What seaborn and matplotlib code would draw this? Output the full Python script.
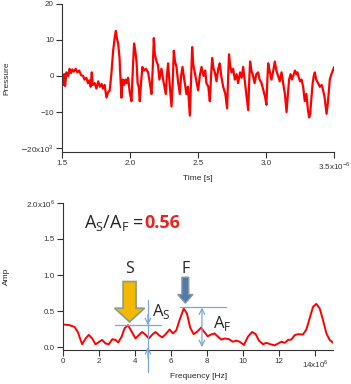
import seaborn as sns
import matplotlib.pyplot as plt
import pandas as pd
from matplotlib.patches import FancyArrow

# pressure trace (time in 1e-6 s, pressure in 1e-3)
time_us = [1.500, 1.507, 1.515, 1.522, 1.532, 1.545, 1.555, 1.565, 1.575, 1.585,
           1.600, 1.612, 1.625, 1.640, 1.654, 1.665, 1.678, 1.690, 1.700, 1.710,
           1.718, 1.725, 1.740, 1.752, 1.765, 1.778, 1.790, 1.801, 1.812, 1.826,
           1.838, 1.850, 1.862, 1.875, 1.888, 1.895, 1.902, 1.912, 1.922, 1.930,
           1.936, 1.945, 1.955, 1.965, 1.973, 1.985, 1.997, 2.010, 2.020, 2.029,
           2.038, 2.047, 2.055, 2.063, 2.071, 2.080, 2.090, 2.100, 2.115, 2.132,
           2.145, 2.157, 2.166, 2.174, 2.182, 2.194, 2.205, 2.215, 2.230, 2.245,
           2.262, 2.270, 2.279, 2.290, 2.304, 2.313, 2.321, 2.330, 2.341, 2.352,
           2.365, 2.375, 2.385, 2.398, 2.414, 2.425, 2.439, 2.448, 2.456, 2.465,
           2.475, 2.488, 2.500, 2.512, 2.525, 2.540, 2.552, 2.561, 2.575, 2.586,
           2.595, 2.603, 2.613, 2.623, 2.635, 2.648, 2.659, 2.670, 2.684, 2.700,
           2.713, 2.720, 2.727, 2.735, 2.745, 2.757, 2.770, 2.783, 2.794, 2.808,
           2.820, 2.831, 2.842, 2.855, 2.868, 2.876, 2.882, 2.892, 2.904, 2.915,
           2.928, 2.941, 2.952, 2.966, 2.980, 2.993, 3.002, 3.009, 3.015, 3.025,
           3.039, 3.050, 3.064, 3.075, 3.088, 3.100, 3.113, 3.125, 3.138, 3.150,
           3.160, 3.169, 3.180, 3.190, 3.199, 3.212, 3.222, 3.230, 3.240, 3.250,
           3.260, 3.272, 3.284, 3.296, 3.306, 3.316, 3.324, 3.333, 3.342, 3.350,
           3.358, 3.368, 3.382, 3.395, 3.408, 3.419, 3.430, 3.444, 3.455, 3.468,
           3.480, 3.490, 3.500]
pressure = [-1.0, -2.5, 0.5, -2.8, 1.0, 0.0, 2.0, 0.8, 1.8, 1.2,
            2.0, 1.0, 1.5, 0.2, 0.0, -1.0, -0.5, -2.0, -1.2, -3.0,
            1.0, -2.5, -2.0, -3.5, -1.5, -3.0, -2.2, -3.5, -2.5, -6.0,
            -4.5, -4.0, 0.5, 7.0, 11.0, 12.5, 10.5, 9.0, 5.0, -1.0,
            -6.0, -1.0, -2.5, -1.0, -2.0, -0.5, -4.5, -7.0, 2.0, 9.0,
            7.0, 4.0, -2.0, -3.0, -7.0, -2.0, 2.5, 1.5, 2.0, 1.0,
            -2.0, -5.0, 2.0, 10.5, 6.0, 4.0, 3.0, -1.0, 2.0, -1.5,
            -5.0, 0.0, 3.5, -2.0, -8.5, -2.0, 7.0, 4.0, 2.5, -1.5,
            -5.0, 0.0, 2.5, -1.0, -5.0, -3.0, -11.0, -1.0, 8.0, 3.0,
            1.0, -1.5, -4.0, 0.0, 2.5, 0.0, 1.5, -2.0, -3.0, -7.0,
            0.0, 5.0, 2.0, 1.0, -1.5, 2.0, 3.5, 0.0, -3.0, -5.0,
            -9.0, -1.0, 6.0, 3.0, 1.0, 2.0, -1.0, 0.5, -2.0, 1.0,
            -0.5, 2.5, -1.0, -5.0, -9.5, -1.0, 4.0, 1.5, 0.0, -2.0,
            0.5, 1.0, -1.0, -2.0, -4.0, -6.0, -8.0, -1.0, 3.5, 1.5,
            -1.0, 1.0, 4.0, 1.5, 0.0, -1.5, 1.0, -2.0, -5.0, -10.0,
            -5.0, -1.0, 0.5, -1.0, 0.0, 1.5, 0.5, 1.0, -0.5, -1.5,
            -1.0, -3.0, -7.0, -5.0, -9.0, -11.5, -10.5, -6.0, -2.0, 0.0,
            1.0, -1.0, -2.0, -3.0, -2.5, -4.0, -6.0, -10.5, -7.0, -1.0,
            0.5, 1.5, 2.5]

# spectrum (frequency in 1e6 Hz, amplitude in 1e6)
freq_mhz = [0.0, 0.37, 0.65, 0.83, 1.07, 1.26, 1.44, 1.63, 1.81, 2.0,
            2.18, 2.37, 2.55, 2.74, 2.92, 3.07, 3.26, 3.42, 3.61, 3.85,
            4.03, 4.22, 4.40, 4.59, 4.77, 4.96, 5.14, 5.33, 5.51, 5.70,
            5.92, 6.10, 6.29, 6.47, 6.70, 6.88, 7.06, 7.25, 7.43, 7.66,
            7.84, 8.03, 8.21, 8.41, 8.60, 8.78, 8.97, 9.21, 9.43, 9.62,
            9.80, 10.04, 10.26, 10.49, 10.69, 10.87, 11.10, 11.28, 11.50, 11.74,
            11.93, 12.11, 12.30, 12.48, 12.67, 12.85, 13.04, 13.31, 13.50, 13.68,
            13.87, 14.05, 14.24, 14.42, 14.61, 14.79, 14.98]
amp = [0.315, 0.305, 0.28, 0.21, 0.04, 0.12, 0.17, 0.12, 0.04, 0.07,
       0.10, 0.05, 0.04, 0.11, 0.10, 0.065, 0.145, 0.26, 0.305, 0.20,
       0.12, 0.17, 0.21, 0.17, 0.12, 0.175, 0.21, 0.165, 0.135, 0.18,
       0.245, 0.19, 0.235, 0.375, 0.535, 0.465, 0.27, 0.18, 0.21, 0.27,
       0.21, 0.15, 0.175, 0.19, 0.145, 0.105, 0.12, 0.11, 0.075, 0.09,
       0.075, 0.03, 0.145, 0.21, 0.18, 0.09, 0.04, 0.06, 0.04, 0.025,
       0.05, 0.075, 0.06, 0.10, 0.105, 0.165, 0.18, 0.175, 0.245, 0.40,
       0.56, 0.60, 0.535, 0.375, 0.19, 0.10, 0.06]

# annotation values
f_slow, a_slow = 3.7, 0.305
f_fast, a_fast = 6.79, 0.55
ratio_text = "0.56"

sns.set_style("ticks")
plt.rcParams['font.family'] = ['Liberation Sans', 'DejaVu Sans']
plt.rcParams['axes.edgecolor'] = '#333333'
plt.rcParams['xtick.color'] = '#333333'
plt.rcParams['ytick.color'] = '#333333'

fig = plt.figure(figsize=(3.51, 3.84), dpi=100)
ax1 = fig.add_axes([0.177, 0.605, 0.775, 0.385])
ax2 = fig.add_axes([0.179, 0.0885, 0.771, 0.383])

df_p = pd.DataFrame({"Time": time_us, "Pressure": pressure})
sns.lineplot(data=df_p, x="Time", y="Pressure", color='#ff0000', linewidth=1.6, ax=ax1)
ax1.set_xlim(1.5, 3.5)
ax1.set_ylim(-21, 20)
ax1.set_xticks([1.5, 2.0, 2.5, 3.0, 3.5])
ax1.set_xticklabels(['1.5', '2.0', '2.5', '3.0', r'3.5x10$^{\mathregular{-6}}$'])
ax1.set_yticks([-20, -10, 0, 10, 20])
ax1.set_yticklabels([r'$-$20x10$^{\mathregular{3}}$', '\u221210', '0', '10', '20'])
ax1.set_xlabel("Time [s]", fontsize=6, labelpad=2)
ax1.set_ylabel("Pressure", fontsize=6, labelpad=7)

df_a = pd.DataFrame({"Frequency": freq_mhz, "Amp": amp})
sns.lineplot(data=df_a, x="Frequency", y="Amp", color='#ff0000', linewidth=1.4, ax=ax2)
ax2.set_xlim(0, 15)
ax2.set_ylim(-0.04, 2.0)
ax2.set_xticks([0, 2, 4, 6, 8, 10, 12, 14])
ax2.set_xticklabels(['0', '2', '4', '6', '8', '10', '12', r'14x10$^{\mathregular{6}}$'])
ax2.set_yticks([0, 0.5, 1.0, 1.5, 2.0])
ax2.set_yticklabels(['0.0', '0.5', '1.0', '1.5', r'2.0x10$^{\mathregular{6}}$'])
ax2.set_xlabel("Frequency [Hz]", fontsize=6, labelpad=2)
ax2.set_ylabel("Amp", fontsize=6, labelpad=11)

for ax in (ax1, ax2):
    sns.despine(ax=ax)
    ax.tick_params(direction='out', length=4, width=0.8, labelsize=5.8, pad=2)
    for s in ax.spines.values():
        s.set_linewidth(0.8)

# annotations on the spectrum
lb = '#7aa6d8'
ax2.plot([2.9, 5.46], [a_slow, a_slow], color=lb, lw=0.9)
ax2.plot([6.47, 9.06], [a_fast, a_fast], color=lb, lw=0.9)
ax2.plot([4.72, 4.72], [0.65, -0.34], color=lb, lw=0.9, clip_on=False)
ax2.annotate('', xy=(4.72, a_slow), xytext=(4.72, 0.45),
             arrowprops=dict(arrowstyle='->', color=lb, lw=0.9, shrinkA=0, shrinkB=0))
ax2.annotate('', xy=(4.72, 0.0), xytext=(4.72, -0.15),
             arrowprops=dict(arrowstyle='->', color=lb, lw=0.9, shrinkA=0, shrinkB=0),
             annotation_clip=False)
ax2.annotate('', xy=(7.71, a_fast), xytext=(7.71, 0.0),
             arrowprops=dict(arrowstyle='<->', color=lb, lw=0.9, shrinkA=0, shrinkB=0))

ax2.add_patch(FancyArrow(f_slow, 0.91, 0, -0.56, width=0.72, head_width=1.66,
                         head_length=0.19, length_includes_head=True,
                         facecolor='#f5b800', edgecolor='#8e9c80', lw=1.2))
ax2.add_patch(FancyArrow(f_fast, 0.97, 0, -0.36, width=0.38, head_width=0.85,
                         head_length=0.12, length_includes_head=True,
                         facecolor='#4f7bab', edgecolor='#8899aa', lw=1.0))

tf = ['Open Sans', 'DejaVu Sans']
ax2.text(f_slow, 1.08, 'S', fontsize=11.5, ha='center', va='center', family=tf)
ax2.text(f_fast, 1.08, 'F', fontsize=11.5, ha='center', va='center', family=tf)
ax2.text(4.95, 0.49, r'A$_\mathregular{S}$', fontsize=12, ha='left', va='center', family=tf)
ax2.text(8.3, 0.33, r'A$_\mathregular{F}$', fontsize=12, ha='left', va='center', family=tf)
ax2.text(1.2, 1.72, r'A$_\mathregular{S}$/A$_\mathregular{F}$ = ', fontsize=13,
         ha='left', va='center', family=tf)
ax2.text(4.5, 1.72, ratio_text, fontsize=13, fontweight='bold', color='#ee2222',
         ha='left', va='center', family=tf)

plt.savefig('out.png', dpi=100)
